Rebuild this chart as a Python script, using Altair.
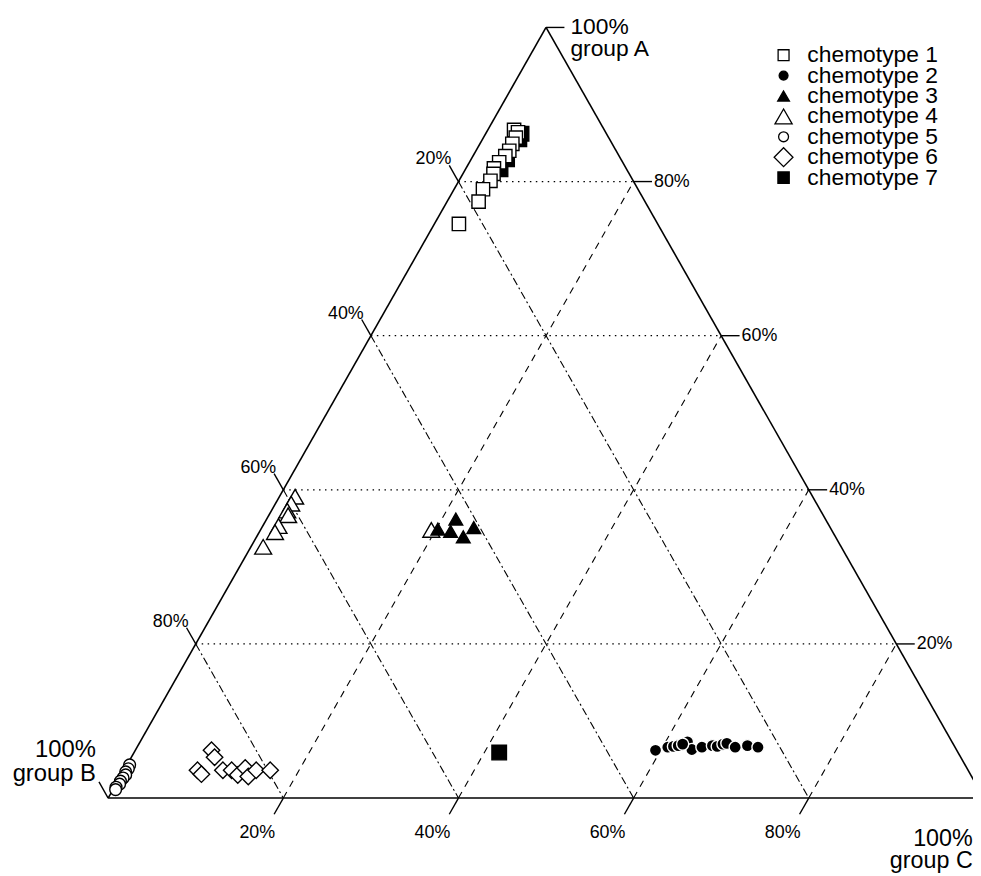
import altair as alt
import pandas as pd

# ---------------- data (percent of group A and group C; group B = 100 - A - C)
CHEMOTYPES = ["chemotype 1", "chemotype 2", "chemotype 3", "chemotype 4",
              "chemotype 5", "chemotype 6", "chemotype 7"]
SHAPES = ["square", "circle", "triangle-up", "triangle-up", "circle", "diamond", "square"]
FILLS = ["white", "black", "black", "white", "white", "white", "black"]
STROKES = ["black", "white", "black", "black", "black", "black", "black"]
SIZES = [180, 150, 190, 290, 140, 275, 215]
LEGEND_SIZES = [121, 80, 140, 300, 100, 360, 130]

ch1_A = [86.7, 86.4, 85.7, 84.9, 84.0, 83.3, 82.5, 81.7, 81.0, 80.1, 79.0, 77.4, 74.5]
ch1_C = [3.0, 3.6, 3.7, 3.7, 3.8, 3.7, 3.4, 3.2, 3.5, 3.6, 3.3, 3.6, 2.8]
ch2_A = [6.2, 6.6, 6.7, 6.8, 7.3, 6.3, 6.6, 6.8, 6.7, 7.0, 7.1, 6.6, 6.8, 6.6, 7.0]
ch2_C = [59.4, 60.6, 61.2, 61.7, 62.5, 63.5, 64.5, 65.6, 66.2, 66.7, 67.1, 68.3, 69.6, 70.9, 62.1]
ch3_A = [34.9, 36.2, 34.6, 33.9, 35.1]
ch3_C = [20.2, 21.6, 21.8, 23.6, 24.2]
ch4_A = [39.1, 38.2, 37.3, 36.7, 35.3, 34.5, 32.6, 34.8]
ch4_C = [1.8, 1.8, 1.8, 2.2, 1.8, 1.8, 1.4, 19.5]
ch5_A = [4.3, 3.8, 3.4, 3.0, 2.6, 2.2, 1.8, 1.4, 1.1]
ch5_C = [0.3, 0.4, 0.3, 0.5, 0.4, 0.3, 0.4, 0.2, 0.3]
ch6_A = [3.6, 3.1, 6.2, 5.3, 3.6, 3.6, 3.0, 3.9, 2.8, 3.6, 3.6]
ch6_C = [8.4, 9.1, 8.7, 9.5, 11.3, 12.3, 13.3, 13.7, 14.6, 15.1, 16.7]
ch7_A = [86.2, 85.5, 82.9, 81.6, 5.9]
ch7_C = [4.1, 4.2, 4.1, 4.0, 41.7]

GRID = [20, 40, 60, 80]
TICK_LABELS = ["20%", "40%", "60%", "80%"]
CORNER_LABELS = ["100%\ngroup A", "100%\ngroup B", "100%\ngroup C"]
TICK = 2.1  # tick length, in percent units beyond the edge

# ---------------- tables built from the arrays
series = [("chemotype 7", ch7_A, ch7_C), ("chemotype 1", ch1_A, ch1_C),
          ("chemotype 4", ch4_A, ch4_C), ("chemotype 3", ch3_A, ch3_C),
          ("chemotype 2", ch2_A, ch2_C), ("chemotype 5", ch5_A, ch5_C),
          ("chemotype 6", ch6_A, ch6_C)]
idx = {n: i for i, n in enumerate(CHEMOTYPES)}
pts = pd.DataFrame([{"chemotype": n, "A": a, "C": c, "shape": SHAPES[idx[n]],
                     "fill": FILLS[idx[n]], "stroke": STROKES[idx[n]], "size": SIZES[idx[n]]}
                    for n, As, Cs in series for a, c in zip(As, Cs)])
pts["B"] = 100 - pts["A"] - pts["C"]

segs = []
def seg(a1, c1, a2, c2, style):
    segs.append({"A1": a1, "C1": c1, "A2": a2, "C2": c2, "style": style})

seg(0, 0, 100, 0, "edge")
seg(0, 0, 0, 100, "edge")
seg(100, 0, 0, 100, "edge")
for v in GRID:
    seg(v, 0, v, 100 - v, "dotted")           # constant A
    seg(100 - v, 0, 0, 100 - v, "dashdot")    # constant B
    seg(0, v, 100 - v, v, "dashed")           # constant C
for v in GRID + [100]:
    seg(v, 100 - v, v, 100 - v + TICK, "tick")             # A ticks (right)
    seg(100 - v, 0, 100 - v + TICK, -TICK, "tick")         # B ticks (left)
    seg(0, v, -TICK, v, "tick")                            # C ticks (bottom)
segs = pd.DataFrame(segs)

right_lab = pd.DataFrame({"A": GRID, "C": [100 - v + TICK for v in GRID], "t": TICK_LABELS})
left_lab = pd.DataFrame({"A": [100 - v + TICK for v in GRID], "C": [-TICK] * 4, "t": TICK_LABELS})
bottom_lab = pd.DataFrame({"A": [-TICK] * 4, "C": GRID, "t": TICK_LABELS})
corner = pd.DataFrame({"A": [100, TICK, -TICK], "C": [TICK, -TICK, 100], "t": CORNER_LABELS})
leg_df = pd.DataFrame({"chemotype": CHEMOTYPES, "shape": SHAPES, "fill": FILLS,
                       "size": LEGEND_SIZES})

XS = alt.Scale(domain=[0, 100], range=[101, 984], nice=False, zero=False)
YS = alt.Scale(domain=[0, 100], range=[793, 16], nice=False, zero=False)
X = alt.X("x:Q", scale=XS, axis=None)
Y = alt.Y("y:Q", scale=YS, axis=None)
LEG_Y = alt.Y("chemotype:N", scale=alt.Scale(domain=CHEMOTYPES, range=[44, 167.4], padding=0),
              axis=None)
FONT = "Liberation Sans"


def rules(style, width, dash=None):
    kw = {"color": "black", "strokeWidth": width}
    if dash is not None:
        kw["strokeDash"] = dash
    return (alt.Chart(segs)
            .transform_filter(alt.datum.style == style)
            .transform_calculate(x="datum.C1 + datum.A1/2", y="datum.A1",
                                 x2="datum.C2 + datum.A2/2", y2="datum.A2")
            .mark_rule(**kw)
            .encode(x=X, y=Y, x2="x2:Q", y2="y2:Q"))


def labels(df, size, **kw):
    return (alt.Chart(df)
            .transform_calculate(x="datum.C + datum.A/2", y="datum.A")
            .mark_text(font=FONT, fontSize=size, color="black", **kw)
            .encode(x=X, y=Y, text="t:N"))


points = (alt.Chart(pts)
          .transform_calculate(x="datum.C + datum.A/2", y="datum.A")
          .mark_point(filled=True, strokeWidth=1.4, opacity=1)
          .encode(x=X, y=Y,
                  shape=alt.Shape("shape:N", scale=None),
                  fill=alt.Fill("fill:N", scale=None),
                  stroke=alt.Stroke("stroke:N", scale=None),
                  size=alt.Size("size:Q", scale=None)))

legend_sym = (alt.Chart(leg_df)
              .mark_point(filled=True, stroke="black", strokeWidth=1.3, opacity=1)
              .encode(x=alt.value(782), y=LEG_Y,
                      shape=alt.Shape("shape:N", scale=None),
                      fill=alt.Fill("fill:N", scale=None),
                      size=alt.Size("size:Q", scale=None)))
legend_txt = (alt.Chart(leg_df)
              .mark_text(align="left", baseline="middle", font=FONT, fontSize=23, color="black")
              .encode(x=alt.value(806), y=LEG_Y, text="chemotype:N"))

chart = alt.layer(
    rules("dotted", 1.2, [1.5, 4.5]),
    rules("dashdot", 1.1, [8, 3, 2, 3]),
    rules("dashed", 1.1, [7, 6]),
    rules("edge", 1.6),
    rules("tick", 1.4),
    points,
    labels(right_lab, 18, align="left", baseline="middle", dx=2),
    labels(left_lab, 18, align="right", baseline="alphabetic", dx=2, dy=-1),
    labels(bottom_lab, 18, align="right", baseline="top", dx=1, dy=10),
    labels(corner.iloc[[0]], 23, align="left", baseline="top", dx=6, dy=-11, lineBreak="\n", lineHeight=22),
    labels(corner.iloc[[1]], 24, align="right", baseline="top", dx=-3, dy=-44, lineBreak="\n", lineHeight=24),
    labels(corner.iloc[[2]], 23.5, align="right", baseline="top", dx=-2, dy=13, lineBreak="\n", lineHeight=22),
    legend_sym,
    legend_txt,
).resolve_scale(y="independent").properties(
    width=973, height=868, padding=0,
    autosize=alt.AutoSizeParams(type="none"),
).configure_view(stroke=None)

chart.save("out.html", embed_options={"renderer": "svg", "actions": False})
